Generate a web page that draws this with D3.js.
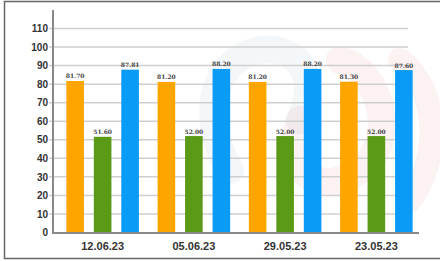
<!DOCTYPE html>
<html>
<head>
<meta charset="utf-8">
<script src="https://cdn.jsdelivr.net/npm/d3@7"></script>
<style>
  body { margin: 0; background: #fff; }
  svg { display: block; }
</style>
</head>
<body>
<div id="chart"></div>
<script>
// dati del grafico
var dates = ["12.06.23", "05.06.23", "29.05.23", "23.05.23"];
var seriesNames = ["s1", "s2", "s3"];
var orangeValues = [81.70, 81.20, 81.20, 81.30];
var greenValues = [51.60, 52.00, 52.00, 52.00];
var blueValues = [87.81, 88.20, 88.20, 87.60];
var yTicks = [0, 10, 20, 30, 40, 50, 60, 70, 80, 90, 100, 110];
var colors = ["#FFA500", "#5A9A17", "#0A9BF6"];

var width = 440, height = 261;
var svg = d3.select("#chart").append("svg")
  .attr("width", width)
  .attr("height", height);

// filigrana leggera sullo sfondo
var wm = svg.append("g").attr("fill", "none").attr("stroke-linecap", "round");
wm.append("path")
  .attr("d", "M230,170 C200,120 210,60 260,50 C300,45 320,80 300,120")
  .attr("stroke", "#6a8fb0").attr("stroke-width", 28).attr("opacity", 0.07);
wm.append("path")
  .attr("d", "M300,120 C280,170 320,200 360,170 C400,140 380,70 340,60")
  .attr("stroke", "#d04040").attr("stroke-width", 28).attr("opacity", 0.07);
wm.append("path")
  .attr("d", "M400,60 C440,90 440,160 410,200")
  .attr("stroke", "#d04040").attr("stroke-width", 24).attr("opacity", 0.07);

// bordo
svg.append("rect")
  .attr("x", 4.5).attr("y", 1.5)
  .attr("width", 440).attr("height", 257)
  .attr("fill", "none")
  .attr("stroke", "#666")
  .attr("stroke-width", 1.5);

var x0 = d3.scaleBand().domain(dates).range([57, 422]);
var x1 = d3.scaleBand().domain(seriesNames).range([0, x0.bandwidth()])
  .paddingInner(0.36).paddingOuter(0.34);
var y = d3.scaleLinear().domain([0, 110]).range([232.5, 28.5]);

// griglia
svg.append("g").selectAll("line")
  .data(yTicks.filter(function (d) { return d > 0; }))
  .enter().append("line")
  .attr("x1", 49).attr("x2", 408)
  .attr("y1", function (d) { return y(d); })
  .attr("y2", function (d) { return y(d); })
  .attr("stroke", "#cfcfcf")
  .attr("stroke-width", 1.5);

// barre
var rows = dates.map(function (d, i) {
  return { date: d, values: [orangeValues[i], greenValues[i], blueValues[i]] };
});

var groups = svg.append("g").selectAll("g")
  .data(rows)
  .enter().append("g")
  .attr("transform", function (d) { return "translate(" + x0(d.date) + ",0)"; });

groups.selectAll("rect")
  .data(function (d) { return d.values.map(function (v, j) { return { key: seriesNames[j], value: v, idx: j }; }); })
  .enter().append("rect")
  .attr("x", function (d) { return x1(d.key); })
  .attr("width", x1.bandwidth())
  .attr("y", function (d) { return y(d.value); })
  .attr("height", function (d) { return y(0) - y(d.value); })
  .attr("fill", function (d) { return colors[d.idx]; });

groups.selectAll("text")
  .data(function (d) { return d.values.map(function (v, j) { return { key: seriesNames[j], value: v }; }); })
  .enter().append("text")
  .attr("x", function (d) { return x1(d.key) + x1.bandwidth() / 2; })
  .attr("y", function (d) { return y(d.value) - 2.5; })
  .attr("text-anchor", "middle")
  .attr("font-family", "DejaVu Serif, serif")
  .attr("font-weight", "bold")
  .attr("font-size", "6px")
  .attr("fill", "#444")
  .text(function (d) { return d.value.toFixed(2); });

// asse y
var yAxis = svg.append("g")
  .attr("transform", "translate(53,0)")
  .call(d3.axisLeft(y).tickValues(yTicks).tickSize(0).tickPadding(5));
yAxis.select(".domain").remove();
yAxis.selectAll("text")
  .attr("font-family", "Liberation Sans, Arial, sans-serif")
  .attr("font-weight", "bold")
  .attr("font-size", "10px")
  .attr("fill", "#333");

svg.append("line")
  .attr("x1", 53).attr("x2", 53)
  .attr("y1", 10).attr("y2", 233.5)
  .attr("stroke", "#888").attr("stroke-width", 2);

// asse x
var xAxis = svg.append("g")
  .attr("transform", "translate(0,233)")
  .call(d3.axisBottom(x0).tickSize(0).tickPadding(9));
xAxis.select(".domain").remove();
xAxis.selectAll("text")
  .attr("font-family", "Liberation Sans, Arial, sans-serif")
  .attr("font-weight", "bold")
  .attr("font-size", "11px")
  .attr("fill", "#333");

svg.append("line")
  .attr("x1", 52).attr("x2", 419)
  .attr("y1", 233).attr("y2", 233)
  .attr("stroke", "#888").attr("stroke-width", 2);
</script>
</body>
</html>
